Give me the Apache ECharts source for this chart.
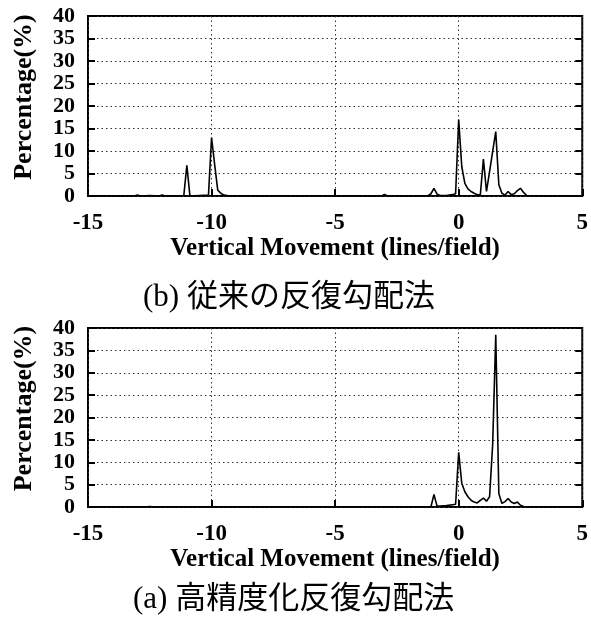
<!DOCTYPE html>
<html>
<head>
<meta charset="utf-8">
<script src="https://cdn.jsdelivr.net/npm/echarts@6/dist/echarts.min.js"></script>
<style>
html,body{margin:0;padding:0;background:#fff;}
#c{width:591px;height:620px;}
</style>
</head>
<body>
<div id="c"></div>
<script>
// Tick values
var xTicks = [-15, -10, -5, 0, 5];
var yTicks = [0, 5, 10, 15, 20, 25, 30, 35, 40];

// (b) conventional iterative gradient method
var xB = [-15, -13.125, -13, -12.875, -12.5, -12.125, -12, -11.875, -11.125, -11, -10.875, -10.125, -10, -9.875, -9.75, -9.625, -9.5, -9.25,
          -3.125, -3, -2.875, -1.25, -1.125, -1, -0.875, -0.75, -0.5, -0.25, -0.125, 0, 0.125, 0.25, 0.375, 0.5, 0.625, 0.75, 0.875,
          1, 1.125, 1.25, 1.375, 1.5, 1.625, 1.75, 1.875, 2, 2.125, 2.25, 2.375, 2.5, 2.625, 2.75, 3, 5];
var yB = [0, 0, 0.2, 0, 0.1, 0, 0.2, 0, 0, 6.8, 0, 0.2, 13, 7, 1.3, 0.6, 0.2, 0,
          0, 0.35, 0, 0, 0.5, 1.7, 0.4, 0.1, 0.1, 0.3, 0.5, 17, 6.5, 2.8, 1.6, 1, 0.6, 0.3, 0.2,
          8.2, 1.0, 5.4, 9.9, 14.3, 2.5, 0.6, 0.2, 1.0, 0.3, 0.5, 1.2, 1.7, 0.8, 0.1, 0, 0];

// (a) high-precision iterative gradient method
var xA = [-15, -12.75, -12.5, -12.25, -1.125, -1, -0.875, -0.75, -0.5, -0.25, -0.125, 0, 0.125, 0.25, 0.375, 0.5, 0.625, 0.75, 0.875,
          1, 1.125, 1.25, 1.375, 1.5, 1.625, 1.75, 1.875, 2, 2.125, 2.25, 2.375, 2.5, 2.625, 3, 5];
var yA = [0, 0, 0.1, 0, 0, 2.8, 0.2, 0.2, 0.3, 0.5, 0.6, 12.2, 5.3, 3.4, 2.3, 1.5, 1.1, 0.9, 1.5,
          2.0, 1.3, 2.3, 14, 38.5, 3, 0.8, 1.2, 1.9, 1.1, 0.8, 1.1, 0.4, 0.1, 0, 0];

var captionB = '(b) 従来の反復勾配法';
var captionA = '(a) 高精度化反復勾配法';
var xName = 'Vertical Movement (lines/field)';
var yName = 'Percentage(%)';

function pairs(xs, ys) { return xs.map(function (x, i) { return [x, ys[i]]; }); }

var serif = '"Liberation Serif", "Times New Roman", serif';
var grids = [
  {left: 88, top: 16, width: 497, height: 180},
  {left: 88, top: 328, width: 497, height: 179}
];

function xAxisFor(gi) {
  return {
    type: 'value', gridIndex: gi, min: xTicks[0], max: xTicks[xTicks.length - 1], interval: 5,
    name: xName, nameLocation: 'middle', nameGap: 21,
    nameTextStyle: {fontFamily: serif, fontWeight: 'bold', fontSize: 25, color: '#000'},
    axisLine: {show: false, onZero: false},
    axisTick: {show: true, inside: true, length: 7, lineStyle: {color: '#000', width: 2}},
    axisLabel: {fontFamily: serif, fontWeight: 'bold', fontSize: 23, color: '#000', margin: 16,
                showMinLabel: true, showMaxLabel: true, hideOverlap: false},
    splitLine: {show: true, lineStyle: {color: '#333', width: 1, type: [1.5, 3]}}
  };
}
function yAxisFor(gi) {
  return {
    type: 'value', gridIndex: gi, position: 'left', min: yTicks[0], max: yTicks[yTicks.length - 1], interval: 5,
    name: yName, nameLocation: 'middle', nameGap: 51, nameRotate: 90,
    nameTextStyle: {fontFamily: serif, fontWeight: 'bold', fontSize: 26, color: '#000', padding: [0, 0, 0, 18]},
    axisLine: {show: false, onZero: false},
    axisTick: {show: true, inside: true, length: 7, lineStyle: {color: '#000', width: 2}},
    axisLabel: {fontFamily: serif, fontWeight: 'bold', fontSize: 22, lineHeight: 20, color: '#000', margin: 13, interval: 0,
                showMinLabel: true, showMaxLabel: true, hideOverlap: false},
    splitLine: {show: true, lineStyle: {color: '#333', width: 1, type: [1.5, 3]}}
  };
}
function yMirror(gi) {
  return {
    type: 'value', gridIndex: gi, position: 'right', min: yTicks[0], max: yTicks[yTicks.length - 1], interval: 5,
    axisLine: {show: false, onZero: false},
    axisTick: {show: true, inside: true, length: 7, lineStyle: {color: '#000', width: 2}},
    axisLabel: {show: false},
    splitLine: {show: false}
  };
}

var chart = echarts.init(document.getElementById('c'), null, {renderer: 'canvas'});
chart.setOption({
  animation: false,
  backgroundColor: '#fff',
  grid: grids.map(function (g) {
    return Object.assign({show: true, borderColor: '#000', borderWidth: 2, backgroundColor: 'transparent'}, g);
  }),
  xAxis: [xAxisFor(0), xAxisFor(1)],
  yAxis: [yAxisFor(0), yAxisFor(1), yMirror(0), yMirror(1)],
  series: [
    {type: 'line', xAxisIndex: 0, yAxisIndex: 0, data: pairs(xB, yB), showSymbol: false, symbol: 'none',
     lineStyle: {color: '#000', width: 1.6}, z: 5},
    {type: 'line', xAxisIndex: 1, yAxisIndex: 1, data: pairs(xA, yA), showSymbol: false, symbol: 'none',
     lineStyle: {color: '#000', width: 1.6}, z: 5}
  ],
  graphic: [
    {type: 'text', left: 143, top: 282, style: {text: captionB, fontFamily: serif + ', "Noto Sans CJK JP"', fontSize: 31, fill: '#000'}},
    {type: 'text', left: 133, top: 584, style: {text: captionA, fontFamily: serif + ', "Noto Sans CJK JP"', fontSize: 31, fill: '#000'}}
  ]
});
</script>
</body>
</html>
